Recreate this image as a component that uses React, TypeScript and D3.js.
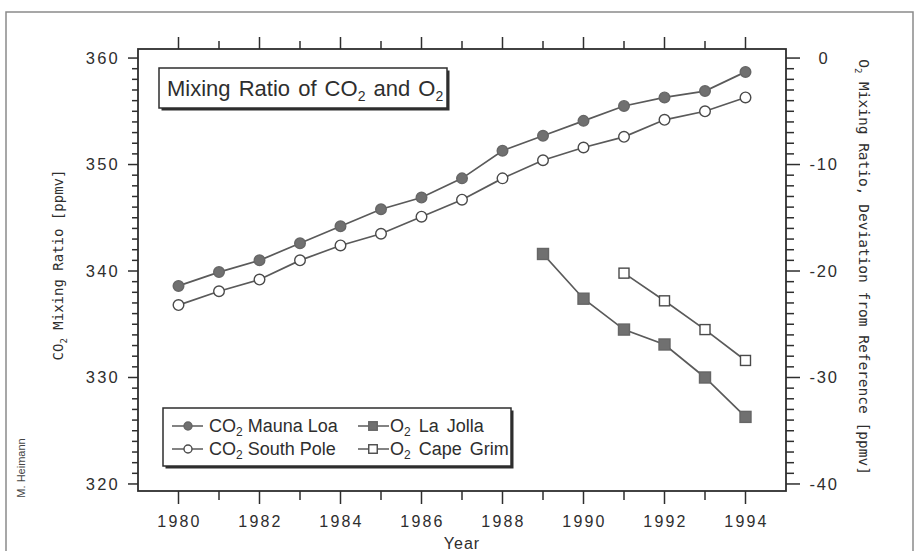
import React from 'react';
import * as d3 from 'd3';

// values
const years = [1980, 1981, 1982, 1983, 1984, 1985, 1986, 1987, 1988, 1989, 1990, 1991, 1992, 1993, 1994];
const maunaLoa = [338.6, 339.9, 341.0, 342.6, 344.2, 345.8, 346.9, 348.7, 351.3, 352.7, 354.1, 355.5, 356.3, 356.9, 358.7];
const southPole = [336.8, 338.1, 339.2, 341.0, 342.4, 343.5, 345.1, 346.7, 348.7, 350.4, 351.6, 352.6, 354.2, 355.0, 356.3];
const laJollaYears = [1989, 1990, 1991, 1992, 1993, 1994];
const laJolla = [-18.4, -22.6, -25.5, -26.9, -30.0, -33.7];
const capeGrimYears = [1991, 1992, 1993, 1994];
const capeGrim = [-20.2, -22.8, -25.5, -28.4];

const yearLabels = [1980, 1982, 1984, 1986, 1988, 1990, 1992, 1994];
const co2Labels = [320, 330, 340, 350, 360];
const o2Labels = [-40, -30, -20, -10, 0];

const W = 917;
const H = 551;
const M = { left: 138, right: 786, top: 49, bottom: 491 };

const sans = '"Liberation Sans", Arial, Helvetica, sans-serif';
const mono = '"DejaVu Sans Mono", "Liberation Mono", monospace';
const ink = '#2e2e2e';
const lineCol = '#5a5a5a';
const fillCol = '#707070';

const x = d3.scaleLinear().domain([1979, 1995]).range([M.left, M.right]);
const yL = d3.scaleLinear().domain([319.34, 360.85]).range([M.bottom, M.top]);
const yR = d3.scaleLinear().domain([-40.66, 0.85]).range([M.bottom, M.top]);

type Pt = [number, number];
const line = d3.line<Pt>().x(d => d[0]).y(d => d[1]);

const Circle = ({ cx, cy, r, filled }: { cx: number; cy: number; r: number; filled: boolean }) => (
  <circle cx={cx} cy={cy} r={r} fill={filled ? fillCol : '#fff'} stroke={filled ? '#666' : '#4a4a4a'} strokeWidth={1.4} />
);

const Square = ({ cx, cy, s, filled }: { cx: number; cy: number; s: number; filled: boolean }) => (
  <rect x={cx - s / 2} y={cy - s / 2} width={s} height={s} fill={filled ? fillCol : '#fff'} stroke={filled ? '#666' : '#4a4a4a'} strokeWidth={1.4} />
);

const Sub = ({ base, rest, size, sub }: { base: string; rest: string; size: number; sub: number }) => (
  <>
    {base}
    <tspan fontSize={sub} dy={size * 0.25}>2</tspan>
    <tspan dy={-size * 0.25}>{rest}</tspan>
  </>
);

const ShadowBox = ({ x0, y0, x1, y1 }: { x0: number; y0: number; x1: number; y1: number }) => (
  <g>
    <rect x={x0 + 2.5} y={y0 + 2.5} width={x1 - x0} height={y1 - y0} fill={ink} />
    <rect x={x0} y={y0} width={x1 - x0} height={y1 - y0} fill="#fff" stroke={ink} strokeWidth={1.5} />
  </g>
);

export default function App() {
  const co2Minor = d3.range(320, 361);
  const o2Minor = d3.range(-40, 1);

  const mlPts: Pt[] = years.map((yr, i) => [x(yr), yL(maunaLoa[i])]);
  const spPts: Pt[] = years.map((yr, i) => [x(yr), yL(southPole[i])]);
  const ljPts: Pt[] = laJollaYears.map((yr, i) => [x(yr), yR(laJolla[i])]);
  const cgPts: Pt[] = capeGrimYears.map((yr, i) => [x(yr), yR(capeGrim[i])]);

  const legendRows = [
    { tx: 172, y: 426, kind: 'circle', filled: true, base: 'CO', rest: ' Mauna Loa' },
    { tx: 172, y: 449, kind: 'circle', filled: false, base: 'CO', rest: ' South Pole' },
    { tx: 358, y: 426, kind: 'square', filled: true, base: 'O', rest: ' La Jolla' },
    { tx: 358, y: 449, kind: 'square', filled: false, base: 'O', rest: ' Cape Grim' },
  ];

  return (
    <svg width={W} height={H} style={{ position: 'absolute', left: 0, top: 0, background: '#fff' }}>
      {/* page frame */}
      <rect x={6} y={12} width={907} height={620} fill="none" stroke="#8a8a8a" strokeWidth={1.5} />

      {/* plot frame */}
      <rect x={M.left} y={M.top} width={M.right - M.left} height={M.bottom - M.top} fill="#fff" stroke={ink} strokeWidth={1.8} />

      {/* x ticks, top and bottom */}
      {years.map(yr => {
        const major = yr % 2 === 0;
        return (
          <g key={yr} stroke={ink} strokeWidth={1.5}>
            <line x1={x(yr)} x2={x(yr)} y1={M.bottom} y2={M.bottom + (major ? 13 : 9)} />
            <line x1={x(yr)} x2={x(yr)} y1={M.top} y2={M.top - (major ? 12 : 8)} />
          </g>
        );
      })}
      {yearLabels.map(yr => (
        <text key={yr} x={x(yr) + 1} y={527} textAnchor="middle" fontFamily={sans} fontSize={16} letterSpacing={2.2} fill={ink}>{yr}</text>
      ))}
      <text x={462} y={549} textAnchor="middle" fontFamily={sans} fontSize={16} letterSpacing={1} fill={ink}>Year</text>

      {/* left axis */}
      {co2Minor.map(v => (
        <line key={v} x1={M.left - (v % 10 === 0 ? 10 : 6)} x2={M.left} y1={yL(v)} y2={yL(v)} stroke={ink} strokeWidth={1.5} />
      ))}
      {co2Labels.map(v => (
        <text key={v} x={120} y={yL(v)} dy="0.36em" textAnchor="end" fontFamily={sans} fontSize={16.5} letterSpacing={2.2} fill={ink}>{v}</text>
      ))}
      <text transform={`translate(63,${265}) rotate(-90)`} textAnchor="middle" fontFamily={mono} fontSize={14} fill={ink}>
        <Sub base="CO" rest=" Mixing Ratio [ppmv]" size={14} sub={9} />
      </text>

      {/* right axis */}
      {o2Minor.map(v => (
        <line key={v} x1={M.right} x2={M.right + (v % 10 === 0 ? 14 : 8)} y1={yR(v)} y2={yR(v)} stroke={ink} strokeWidth={1.5} />
      ))}
      {o2Labels.map(v => (
        <text key={v} x={824} y={yR(v)} dy="0.36em" textAnchor="middle" fontFamily={sans} fontSize={16.5} letterSpacing={1.8} fill={ink}>{v === 0 ? '0' : `-${Math.abs(v)}`}</text>
      ))}
      <text transform={`translate(859,${267}) rotate(90)`} textAnchor="middle" fontFamily={mono} fontSize={14.5} fill={ink}>
        <Sub base="O" rest=" Mixing Ratio, Deviation from Reference [ppmv]" size={14.5} sub={9} />
      </text>

      {/* credit */}
      <text transform="translate(25,468) rotate(-90)" textAnchor="middle" fontFamily={sans} fontSize={11} fill="#444">M. Heimann</text>

      {/* series */}
      <g fill="none" stroke={lineCol} strokeWidth={1.7}>
        <path d={line(mlPts) ?? ''} />
        <path d={line(spPts) ?? ''} />
        <path d={line(ljPts) ?? ''} />
        <path d={line(cgPts) ?? ''} />
      </g>
      {mlPts.map((p, i) => <Circle key={`ml${i}`} cx={p[0]} cy={p[1]} r={5.3} filled />)}
      {spPts.map((p, i) => <Circle key={`sp${i}`} cx={p[0]} cy={p[1]} r={5.3} filled={false} />)}
      {ljPts.map((p, i) => <Square key={`lj${i}`} cx={p[0]} cy={p[1]} s={11} filled />)}
      {cgPts.map((p, i) => <Square key={`cg${i}`} cx={p[0]} cy={p[1]} s={10} filled={false} />)}

      {/* title box */}
      <ShadowBox x0={159} y0={68} x1={447} y1={108} />
      <text x={167} y={96} fontFamily={sans} fontSize={22} wordSpacing={2} fill={ink}>
        Mixing Ratio of CO<tspan fontSize={14} dy={5}>2</tspan><tspan dy={-5}> and O</tspan><tspan fontSize={14} dy={5}>2</tspan>
      </text>

      {/* legend */}
      <ShadowBox x0={163} y0={408} x1={511} y1={466} />
      {legendRows.map((r, i) => (
        <g key={i}>
          <line x1={r.tx} x2={r.tx + 31} y1={r.y} y2={r.y} stroke={lineCol} strokeWidth={1.5} />
          {r.kind === 'circle'
            ? <Circle cx={r.tx + 16} cy={r.y} r={4} filled={r.filled} />
            : <Square cx={r.tx + 15} cy={r.y} s={8.5} filled={r.filled} />}
          <text x={r.tx + (r.kind === 'circle' ? 37 : 32)} y={r.y} dy="0.36em" fontFamily={sans} fontSize={18}
            wordSpacing={r.kind === 'square' ? 3 : 0} fill={ink}>
            <Sub base={r.base} rest={r.rest} size={14} sub={12} />
          </text>
        </g>
      ))}
    </svg>
  );
}
